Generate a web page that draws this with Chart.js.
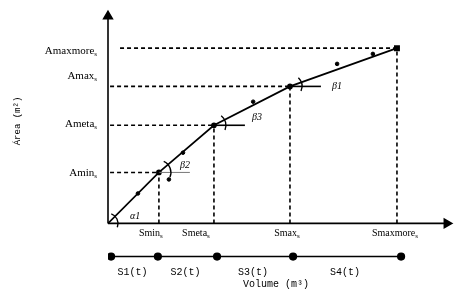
<!DOCTYPE html>
<html>
<head>
<meta charset="utf-8">
<script src="https://cdn.jsdelivr.net/npm/chart.js@4.4.0/dist/chart.umd.min.js"></script>
<style>
  html, body { margin: 0; padding: 0; background: #fff; }
  #wrap { width: 454px; height: 302px; }
</style>
</head>
<body>
<div id="wrap"><canvas id="areaChart"></canvas></div>
<script>
// breakpoints of the area-volume curve (origin first)
const volume = [0, 1.48, 3.08, 5.29, 8.4];
const area = [0, 2.4, 4.62, 6.45, 8.25];
const volumeLabels = ['Smin', 'Smeta', 'Smax', 'Smaxmore'];
const areaLabels = ['Amin', 'Ameta', 'Amax', 'Amaxmore'];
const slopeLabels = ['\u03B11', '\u03B22', '\u03B23', '\u03B21'];

// sample points scattered along the curve
const sampleVolume = [0.87, 1.77, 2.18, 4.22, 6.66, 7.7];
const sampleArea = [1.41, 2.07, 3.33, 5.73, 7.51, 7.98];

// operating stages under the x axis
const stageVolume = [0.09, 1.45, 3.17, 5.38, 8.52];
const stageLabels = ['S1(t)', 'S2(t)', 'S3(t)', 'S4(t)'];
const stageLevel = -1.56;

const ink = '#000';
const dash = [4, 3];

function seg(x1, y1, x2, y2, extra) {
  return Object.assign({
    type: 'line',
    data: [{ x: x1, y: y1 }, { x: x2, y: y2 }],
    borderColor: ink,
    borderWidth: 1.6,
    pointRadius: 0,
    fill: false
  }, extra || {});
}

const datasets = [];

// dashed guides
for (let i = 1; i < volume.length; i++) {
  datasets.push(seg(volume[i], 0, volume[i], area[i], { borderDash: dash }));
  datasets.push(seg(i === 4 ? 0.35 : 0.06, area[i], volume[i], area[i], { borderDash: dash }));
}

// short horizontal references for the angles
for (let i = 1; i < 4; i++) {
  datasets.push(seg(volume[i], area[i], volume[i] + 0.9, area[i], {
    borderColor: i === 1 ? '#777' : ink,
    borderWidth: i === 1 ? 1 : 1.6
  }));
}

// axes with arrow heads
datasets.push({
  type: 'line',
  data: [{ x: 0, y: 0 }, { x: 9.85, y: 0 }],
  borderColor: ink, borderWidth: 1.6, clip: false,
  pointStyle: 'triangle', pointRadius: [0, 5], pointRotation: [0, 90],
  pointBackgroundColor: ink, pointBorderColor: ink
});
datasets.push({
  type: 'line',
  data: [{ x: 0, y: 0 }, { x: 0, y: 9.75 }],
  borderColor: ink, borderWidth: 1.6, clip: false,
  pointStyle: 'triangle', pointRadius: [0, 5], pointRotation: [0, 0],
  pointBackgroundColor: ink, pointBorderColor: ink
});

// the curve itself
datasets.push({
  type: 'line',
  data: volume.map((v, i) => ({ x: v, y: area[i] })),
  borderColor: ink,
  borderWidth: 1.7,
  pointStyle: volume.map((v, i) => i === 4 ? 'rect' : 'circle'),
  pointRadius: volume.map((v, i) => i === 0 ? 0 : (i === 4 ? 3 : 2)),
  pointBackgroundColor: ink,
  pointBorderColor: ink
});

// samples
datasets.push({
  type: 'scatter',
  data: sampleVolume.map((v, i) => ({ x: v, y: sampleArea[i] })),
  pointRadius: 1.8,
  pointBackgroundColor: ink,
  pointBorderColor: ink
});

// stage timeline
datasets.push({
  type: 'line',
  data: stageVolume.map(v => ({ x: v, y: stageLevel })),
  borderColor: ink,
  borderWidth: 1.6,
  pointRadius: 3.3,
  pointBackgroundColor: ink,
  pointBorderColor: ink
});

function subText(ctx, base, sub, x, y, align, font, subFont) {
  ctx.font = font;
  const w1 = ctx.measureText(base).width;
  ctx.font = subFont;
  const w2 = ctx.measureText(sub).width;
  let left = x;
  if (align === 'center') left = x - (w1 + w2) / 2;
  if (align === 'right') left = x - (w1 + w2);
  ctx.textAlign = 'left';
  ctx.textBaseline = 'middle';
  ctx.font = font;
  ctx.fillText(base, left, y);
  ctx.font = subFont;
  ctx.fillText(sub, left + w1, y + 3);
}

const annotate = {
  id: 'annotate',
  afterDatasetsDraw(chart) {
    const ctx = chart.ctx;
    const xs = chart.scales.x, ys = chart.scales.y;
    const px = v => xs.getPixelForValue(v);
    const py = v => ys.getPixelForValue(v);
    ctx.save();
    ctx.fillStyle = ink;
    ctx.strokeStyle = ink;

    // angle arcs
    for (let i = 0; i < 4; i++) {
      const x = px(volume[i]), y = py(area[i]);
      const a = Math.atan2(py(area[i + 1]) - y, px(volume[i + 1]) - x);
      ctx.beginPath();
      ctx.lineWidth = 1.4;
      ctx.arc(x, y, i === 0 ? 10 : 12, a - 0.45, 0.4);
      ctx.stroke();
    }

    // slope labels
    const slopeOff = [[22, -7], [21, -7], [38, -8], [42, 0]];
    ctx.font = 'italic 10px "Liberation Serif"';
    ctx.textAlign = 'left';
    ctx.textBaseline = 'middle';
    slopeLabels.forEach((t, i) => {
      ctx.fillText(t, px(volume[i]) + slopeOff[i][0], py(area[i]) + slopeOff[i][1]);
    });

    const f = '10px "Liberation Serif"', sf = '7px "Liberation Serif"';
    // x tick labels
    const xOff = [-8, -18, -3, -2];
    volumeLabels.forEach((t, i) => {
      subText(ctx, t, 's', px(volume[i + 1]) + xOff[i], py(0) + 10, 'center', f, sf);
    });
    // y tick labels
    const yOff = [1, -1, -10, 3];
    const fy = '11px "Liberation Serif"';
    areaLabels.forEach((t, i) => {
      subText(ctx, t, 's', 97, py(area[i + 1]) + yOff[i], 'right', fy, sf);
    });

    // stage labels
    ctx.font = '10px "Liberation Mono"';
    ctx.textAlign = 'center';
    ctx.textBaseline = 'middle';
    stageLabels.forEach((t, i) => {
      ctx.fillText(t, (px(stageVolume[i]) + px(stageVolume[i + 1])) / 2 - 2, py(stageLevel) + 16);
    });

    // axis titles
    ctx.fillText('Volume (m\u00B3)', 276, py(stageLevel) + 28);
    ctx.translate(18, 121);
    ctx.rotate(-Math.PI / 2);
    ctx.font = '9px "Liberation Mono"';
    ctx.fillText('\u00C1rea (m\u00B2)', 0, 0);
    ctx.restore();
  }
};

new Chart(document.getElementById('areaChart'), {
  type: 'line',
  data: { datasets: datasets },
  options: {
    responsive: true,
    maintainAspectRatio: false,
    animation: false,
    layout: { autoPadding: false, padding: { left: 108, right: 2, top: 11, bottom: 0 } },
    scales: {
      x: { type: 'linear', min: 0, max: 10, display: false },
      y: { type: 'linear', min: -3.7, max: 10, display: false }
    },
    plugins: { legend: { display: false }, tooltip: { enabled: false } },
    elements: { line: { tension: 0 } }
  },
  plugins: [annotate]
});
</script>
</body>
</html>
